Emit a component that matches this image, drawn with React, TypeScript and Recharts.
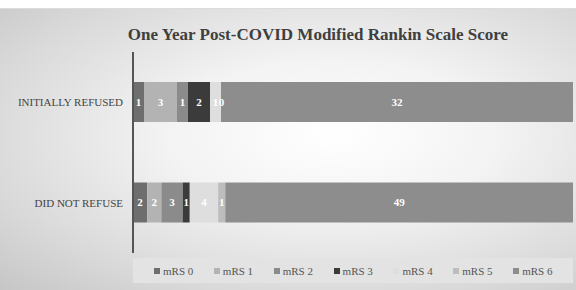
import { BarChart, Bar, XAxis, YAxis, Legend, LabelList } from "recharts";

const groups = ["INITIALLY REFUSED", "DID NOT REFUSE"];
const scoreNames = ["mRS 0", "mRS 1", "mRS 2", "mRS 3", "mRS 4", "mRS 5", "mRS 6"];
const refusedCounts = [1, 3, 1, 2, 1, 0, 32];
const notRefusedCounts = [2, 2, 3, 1, 4, 1, 49];
const scoreColors = ["#6e6e6e", "#b3b3b3", "#8b8b8b", "#3b3b3b", "#dedede", "#bdbdbd", "#8d8d8d"];

const rows = [refusedCounts, notRefusedCounts].map((counts, i) => {
  const row: Record<string, any> = { name: groups[i] };
  scoreNames.forEach((s, j) => (row[s] = counts[j]));
  return row;
});

const serif = "Liberation Serif";

function GroupTick(props: any) {
  const { x, y, payload } = props;
  return (
    <text x={x} y={y} dy={4} textAnchor="end" fill="#444" fontSize={11} fontFamily={serif}>
      {payload.value}
    </text>
  );
}

function renderLegend() {
  return (
    <div
      style={{
        width: 440,
        height: 25,
        background: "#e3e3e3",
        display: "flex",
        alignItems: "center",
        paddingLeft: 21,
        boxSizing: "border-box",
        fontFamily: serif,
        fontSize: 11,
        color: "#555",
      }}
    >
      {scoreNames.map((s, i) => (
        <div key={s} style={{ width: 60, display: "flex", alignItems: "center" }}>
          <span style={{ width: 6, height: 6, background: scoreColors[i], marginRight: 3, display: "inline-block" }} />
          <span>{s}</span>
        </div>
      ))}
    </div>
  );
}

export default function App() {
  return (
    <div
      style={{
        position: "absolute",
        left: 0,
        top: 8,
        width: 576,
        height: 282,
        borderTop: "1px solid #dcdcdc",
        boxSizing: "border-box",
        background: "radial-gradient(ellipse at 58% 45%, #ffffff 0%, #f3f3f3 35%, #d9d9d9 75%, #c6c6c6 100%)",
      }}
    >
      <div
        style={{
          position: "absolute",
          left: 0,
          top: 16,
          width: 636,
          textAlign: "center",
          fontFamily: serif,
          fontWeight: "bold",
          fontSize: 17,
          color: "#3f3f3f",
        }}
      >
        One Year Post-COVID Modified Rankin Scale Score
      </div>
      <BarChart
        width={576}
        height={281}
        data={rows}
        layout="vertical"
        stackOffset="expand"
        margin={{ top: 43, right: 3, bottom: 12, left: 0 }}
        style={{ position: "absolute", left: 0, top: 0 }}
      >
        <XAxis type="number" domain={[0, 1]} hide />
        <YAxis
          type="category"
          dataKey="name"
          width={133}
          tickLine={false}
          tickSize={0}
          tickMargin={10}
          axisLine={{ stroke: "#555", strokeWidth: 2 }}
          tick={<GroupTick />}
        />
        <Legend
          content={renderLegend}
          wrapperStyle={{ top: 249, left: 133, width: 440, height: 25 }}
        />
        {scoreNames.map((s, i) => (
          <Bar
            key={s}
            dataKey={s}
            stackId="a"
            fill={scoreColors[i]}
            barSize={40}
            minPointSize={1}
            isAnimationActive={false}
          >
            <LabelList
              dataKey={s}
              position="center"
              fill="#ffffff"
              style={{ fontFamily: serif, fontWeight: "bold", fontSize: 11 }}
            />
          </Bar>
        ))}
      </BarChart>
    </div>
  );
}
